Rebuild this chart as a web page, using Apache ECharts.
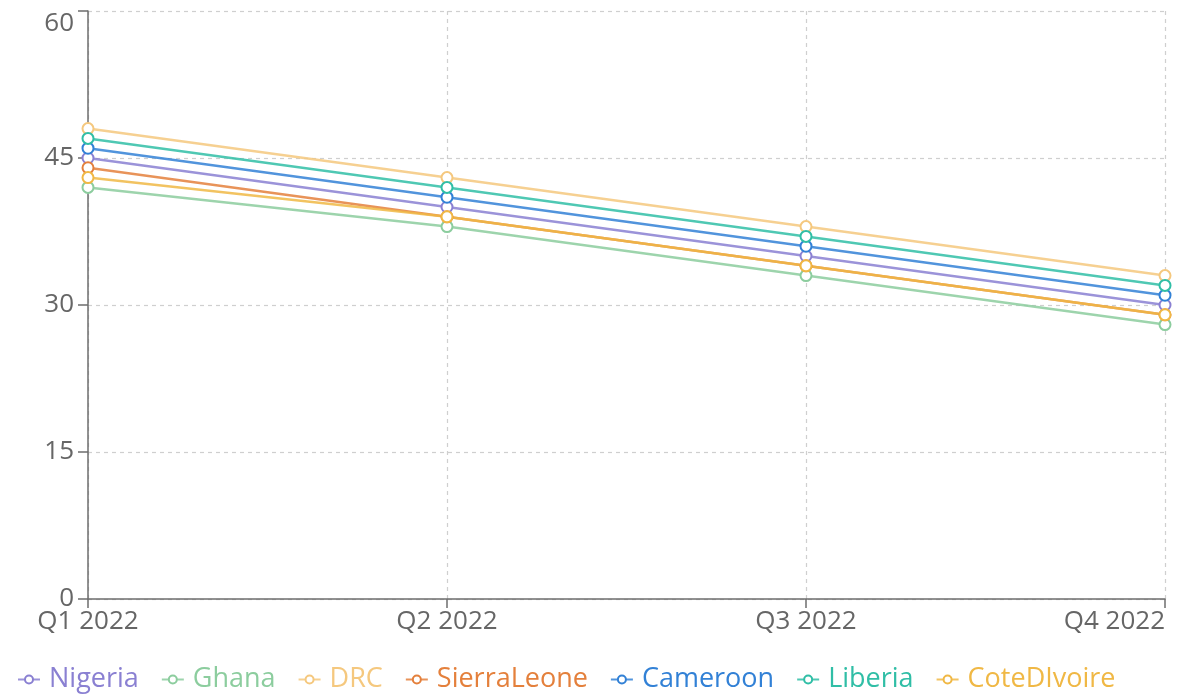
<!DOCTYPE html>
<html>
<head>
<meta charset="utf-8">
<script src="https://cdn.jsdelivr.net/npm/echarts@6/dist/echarts.min.js"></script>
<style>
  html, body { margin: 0; padding: 0; background: #fff; }
  #chart { width: 1190px; height: 698px; }
</style>
</head>
<body>
<div id="chart"></div>
<script>
// Quarterly values per country
const quarters = ['Q1 2022', 'Q2 2022', 'Q3 2022', 'Q4 2022'];
const nigeria = [45, 40, 35, 30];
const ghana = [42, 38, 33, 28];
const drc = [48, 43, 38, 33];
const sierraLeone = [44, 39, 34, 29];
const cameroon = [46, 41, 36, 31];
const liberia = [47, 42, 37, 32];
const coteDIvoire = [43, 39, 34, 29];

const seriesDefs = [
  { name: 'Nigeria', data: nigeria, color: '#8a80d2' },
  { name: 'Ghana', data: ghana, color: '#8ccd9e' },
  { name: 'DRC', data: drc, color: '#f5c87e' },
  { name: 'SierraLeone', data: sierraLeone, color: '#e4803c' },
  { name: 'Cameroon', data: cameroon, color: '#3281d6' },
  { name: 'Liberia', data: liberia, color: '#30bea6' },
  { name: 'CoteDIvoire', data: coteDIvoire, color: '#f0b845' }
];

const chart = echarts.init(document.getElementById('chart'));
chart.setOption({
  animation: false,
  textStyle: { fontFamily: 'Open Sans' },
  grid: {
    left: 88, right: 25, top: 11, bottom: 99,
    containLabel: false,
    outerBoundsMode: 'none'
  },
  legend: {
    bottom: 0,
    left: 12,
    itemGap: 22,
    itemWidth: 22,
    itemHeight: 10,
    textStyle: { fontSize: 27, fontFamily: 'Open Sans', padding: [0, 0, 0, 4] },
    data: seriesDefs.map(s => ({ name: s.name, textStyle: { color: s.color } }))
  },
  xAxis: {
    type: 'category',
    data: quarters,
    boundaryGap: false,
    axisLine: { lineStyle: { color: '#6e6e6e', width: 1.5 } },
    axisTick: { show: true, alignWithLabel: true, length: 9, lineStyle: { color: '#6e6e6e', width: 1.5 } },
    axisLabel: { color: '#666', fontSize: 26, margin: 10, interval: 0, alignMaxLabel: 'right' },
    splitLine: { show: true, lineStyle: { color: '#cfcfcf', type: [4, 4], width: 1.2 } }
  },
  yAxis: {
    type: 'value',
    min: 0,
    max: 60,
    interval: 15,
    axisLine: { show: true, lineStyle: { color: '#6e6e6e', width: 1.5 } },
    axisTick: { show: true, length: 10, lineStyle: { color: '#6e6e6e', width: 1.5 } },
    axisLabel: { color: '#666', fontSize: 26, margin: 14, verticalAlignMaxLabel: 'top' },
    splitLine: { show: true, lineStyle: { color: '#cfcfcf', type: [4, 4], width: 1.2 } }
  },
  series: seriesDefs.map(s => ({
    name: s.name,
    type: 'line',
    data: s.data,
    color: s.color,
    symbol: 'emptyCircle',
    symbolSize: 11,
    lineStyle: { width: 2.5, color: s.color, opacity: 0.85 },
    itemStyle: { color: s.color, borderWidth: 1.5 }
  }))
});
</script>
</body>
</html>
